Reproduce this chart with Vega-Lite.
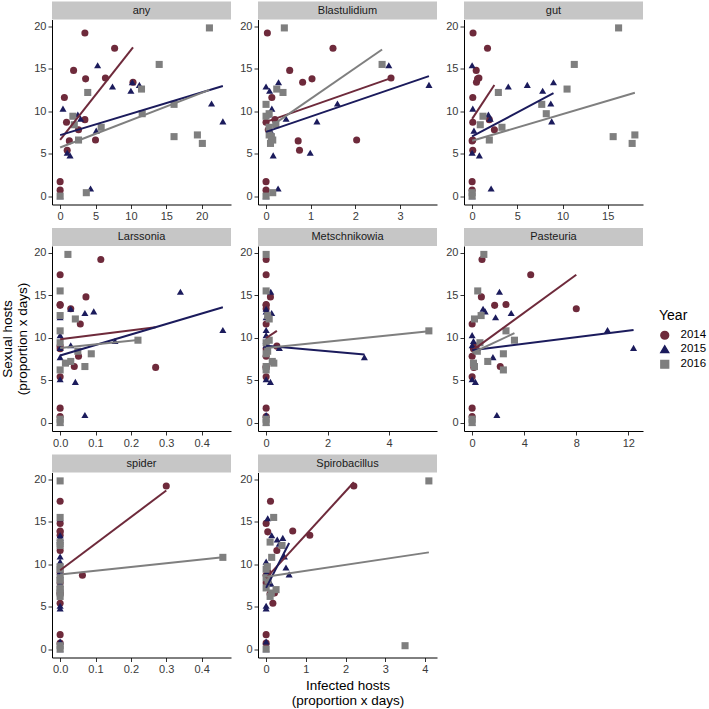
{
  "$schema": "https://vega.github.io/schema/vega-lite/v6.json",
  "padding": {"left": 0, "top": 1.5, "right": 0, "bottom": 0},
  "datasets": {
    "d": [
      {"Year":"2014","y":19.2,"any":3.5,"Blastulidium":0.03,"gut":0.1,"Larssonia":0.115,"Metschnikowia":0,"Pasteuria":0.76,"spider":0.3,"Spirobacillus":2.21},
      {"Year":"2014","y":17.4,"any":7.7,"Blastulidium":1.5,"gut":1.7,"Larssonia":0,"Metschnikowia":0,"Pasteuria":4.5,"spider":0,"Spirobacillus":0.11},
      {"Year":"2014","y":14.8,"any":1.9,"Blastulidium":0.53,"gut":0.45,"Larssonia":0.073,"Metschnikowia":0.14,"Pasteuria":0.71,"spider":0,"Spirobacillus":0},
      {"Year":"2014","y":13.9,"any":6.4,"Blastulidium":2.8,"gut":0.75,"Larssonia":0,"Metschnikowia":0,"Pasteuria":2.6,"spider":0,"Spirobacillus":0.67},
      {"Year":"2014","y":13.8,"any":3.6,"Blastulidium":1.03,"gut":0.6,"Larssonia":0,"Metschnikowia":0,"Pasteuria":1.73,"spider":0,"Spirobacillus":0.04},
      {"Year":"2014","y":13.4,"any":10.3,"Blastulidium":0.82,"gut":0.48,"Larssonia":0.03,"Metschnikowia":0,"Pasteuria":8.0,"spider":0,"Spirobacillus":1.1},
      {"Year":"2014","y":11.6,"any":0.6,"Blastulidium":0.13,"gut":0.07,"Larssonia":0.057,"Metschnikowia":0,"Pasteuria":0,"spider":0,"Spirobacillus":0.27},
      {"Year":"2014","y":9.0,"any":3.5,"Blastulidium":0.2,"gut":1.9,"Larssonia":0,"Metschnikowia":0.35,"Pasteuria":0.3,"spider":0,"Spirobacillus":0.05},
      {"Year":"2014","y":8.7,"any":0.9,"Blastulidium":0,"gut":0.07,"Larssonia":0,"Metschnikowia":0,"Pasteuria":0.1,"spider":0.063,"Spirobacillus":0},
      {"Year":"2014","y":7.8,"any":2.6,"Blastulidium":0.05,"gut":2.46,"Larssonia":0.052,"Metschnikowia":0,"Pasteuria":0,"spider":0,"Spirobacillus":0},
      {"Year":"2014","y":6.6,"any":5.0,"Blastulidium":2.03,"gut":0.07,"Larssonia":0.04,"Metschnikowia":0,"Pasteuria":2.16,"spider":0,"Spirobacillus":0.21},
      {"Year":"2014","y":6.5,"any":1.3,"Blastulidium":0.72,"gut":0,"Larssonia":0.27,"Metschnikowia":0,"Pasteuria":0.13,"spider":0,"Spirobacillus":0.1},
      {"Year":"2014","y":5.4,"any":1.0,"Blastulidium":0.75,"gut":0.07,"Larssonia":0,"Metschnikowia":0,"Pasteuria":0,"spider":0,"Spirobacillus":0.17},
      {"Year":"2014","y":1.7,"any":0,"Blastulidium":0,"gut":0,"Larssonia":0,"Metschnikowia":0,"Pasteuria":0,"spider":0,"Spirobacillus":0},
      {"Year":"2014","y":0.7,"any":0,"Blastulidium":0,"gut":0,"Larssonia":0,"Metschnikowia":0,"Pasteuria":0,"spider":0,"Spirobacillus":0},
      {"Year":"2015","y":15.4,"any":5.3,"Blastulidium":2.75,"gut":0,"Larssonia":0.34,"Metschnikowia":0.15,"Pasteuria":2.1,"spider":0,"Spirobacillus":0.04},
      {"Year":"2015","y":13.4,"any":10.2,"Blastulidium":0.28,"gut":9.0,"Larssonia":0.03,"Metschnikowia":0,"Pasteuria":0.84,"spider":0,"Spirobacillus":0.14},
      {"Year":"2015","y":13.1,"any":11.2,"Blastulidium":3.65,"gut":6.1,"Larssonia":0.095,"Metschnikowia":0,"Pasteuria":1.0,"spider":0,"Spirobacillus":0.42},
      {"Year":"2015","y":12.9,"any":7.4,"Blastulidium":0,"gut":4.0,"Larssonia":0.07,"Metschnikowia":0.18,"Pasteuria":3.0,"spider":0,"Spirobacillus":0.28},
      {"Year":"2015","y":12.4,"any":10.0,"Blastulidium":0.08,"gut":7.8,"Larssonia":0,"Metschnikowia":0,"Pasteuria":1.8,"spider":0,"Spirobacillus":0.33},
      {"Year":"2015","y":10.9,"any":21.4,"Blastulidium":1.6,"gut":8.7,"Larssonia":0.46,"Metschnikowia":0,"Pasteuria":10.4,"spider":0,"Spirobacillus":0.46},
      {"Year":"2015","y":10.3,"any":0.4,"Blastulidium":0.13,"gut":0.07,"Larssonia":0,"Metschnikowia":0,"Pasteuria":0,"spider":0,"Spirobacillus":0},
      {"Year":"2015","y":9.6,"any":2.5,"Blastulidium":0.05,"gut":1.8,"Larssonia":0.155,"Metschnikowia":0,"Pasteuria":0.1,"spider":0,"Spirobacillus":0.5},
      {"Year":"2015","y":9.1,"any":2.9,"Blastulidium":0.45,"gut":2.0,"Larssonia":0.03,"Metschnikowia":0,"Pasteuria":0,"spider":0,"Spirobacillus":0.02},
      {"Year":"2015","y":8.8,"any":23.0,"Blastulidium":1.14,"gut":8.8,"Larssonia":0,"Metschnikowia":0.43,"Pasteuria":12.4,"spider":0,"Spirobacillus":0.58},
      {"Year":"2015","y":7.7,"any":5.1,"Blastulidium":0.1,"gut":0.2,"Larssonia":0,"Metschnikowia":3.2,"Pasteuria":1.6,"spider":0,"Spirobacillus":0.12},
      {"Year":"2015","y":5.1,"any":1.0,"Blastulidium":0.99,"gut":0,"Larssonia":0,"Metschnikowia":0,"Pasteuria":0,"spider":0,"Spirobacillus":0},
      {"Year":"2015","y":4.8,"any":1.4,"Blastulidium":0.16,"gut":0.8,"Larssonia":0.043,"Metschnikowia":0.14,"Pasteuria":0.25,"spider":0,"Spirobacillus":0},
      {"Year":"2015","y":0.9,"any":4.3,"Blastulidium":0.27,"gut":2.1,"Larssonia":0.07,"Metschnikowia":0,"Pasteuria":1.9,"spider":0,"Spirobacillus":0},
      {"Year":"2015","y":0.0,"any":0,"Blastulidium":0,"gut":0,"Larssonia":0,"Metschnikowia":0,"Pasteuria":0,"spider":0,"Spirobacillus":0},
      {"Year":"2016","y":19.8,"any":21.1,"Blastulidium":0.41,"gut":16.2,"Larssonia":0.022,"Metschnikowia":0,"Pasteuria":0.9,"spider":0,"Spirobacillus":4.1},
      {"Year":"2016","y":15.5,"any":14.0,"Blastulidium":2.6,"gut":11.3,"Larssonia":0,"Metschnikowia":0,"Pasteuria":0.43,"spider":0,"Spirobacillus":0.19},
      {"Year":"2016","y":12.6,"any":11.5,"Blastulidium":0.24,"gut":10.5,"Larssonia":0,"Metschnikowia":0.05,"Pasteuria":0.69,"spider":0,"Spirobacillus":0.1},
      {"Year":"2016","y":12.2,"any":3.9,"Blastulidium":0.38,"gut":2.9,"Larssonia":0.043,"Metschnikowia":0.1,"Pasteuria":0.18,"spider":0,"Spirobacillus":0.4},
      {"Year":"2016","y":10.8,"any":16.1,"Blastulidium":0,"gut":7.7,"Larssonia":0,"Metschnikowia":5.3,"Pasteuria":2.6,"spider":0.46,"Spirobacillus":0.14},
      {"Year":"2016","y":9.7,"any":11.6,"Blastulidium":0.07,"gut":8.2,"Larssonia":0.22,"Metschnikowia":0.1,"Pasteuria":3.25,"spider":0,"Spirobacillus":0.03},
      {"Year":"2016","y":9.4,"any":1.8,"Blastulidium":0,"gut":1.2,"Larssonia":0,"Metschnikowia":0,"Pasteuria":0.6,"spider":0,"Spirobacillus":0},
      {"Year":"2016","y":8.4,"any":2.0,"Blastulidium":0.22,"gut":0.9,"Larssonia":0.05,"Metschnikowia":0.05,"Pasteuria":0.4,"spider":0,"Spirobacillus":0},
      {"Year":"2016","y":8.1,"any":5.8,"Blastulidium":0.07,"gut":3.3,"Larssonia":0.088,"Metschnikowia":0,"Pasteuria":2.4,"spider":0,"Spirobacillus":0.05},
      {"Year":"2016","y":7.2,"any":19.4,"Blastulidium":0.07,"gut":18.0,"Larssonia":0.03,"Metschnikowia":0.2,"Pasteuria":1.2,"spider":0,"Spirobacillus":0},
      {"Year":"2016","y":7.0,"any":16.1,"Blastulidium":0.12,"gut":15.6,"Larssonia":0.015,"Metschnikowia":0.25,"Pasteuria":0.1,"spider":0,"Spirobacillus":0.25},
      {"Year":"2016","y":6.6,"any":2.6,"Blastulidium":0.15,"gut":1.9,"Larssonia":0.07,"Metschnikowia":0,"Pasteuria":0.18,"spider":0,"Spirobacillus":0.13},
      {"Year":"2016","y":6.2,"any":20.1,"Blastulidium":0.1,"gut":17.7,"Larssonia":0,"Metschnikowia":0,"Pasteuria":2.4,"spider":0,"Spirobacillus":0.1},
      {"Year":"2016","y":0.4,"any":3.7,"Blastulidium":0.15,"gut":0,"Larssonia":0,"Metschnikowia":0,"Pasteuria":0,"spider":0,"Spirobacillus":3.5},
      {"Year":"2016","y":0.0,"any":0,"Blastulidium":0,"gut":0,"Larssonia":0,"Metschnikowia":0,"Pasteuria":0,"spider":0,"Spirobacillus":0}
    ]
  },
  "config": {
    "font": "Liberation Sans",
    "view": {"stroke": null},
    "axis": {"grid": false, "domainColor": "#000000", "domainWidth": 1, "tickColor": "#333333", "tickSize": 4, "tickWidth": 1, "labelColor": "#3a3a3a", "labelFontSize": 11, "labelFont": "Liberation Sans", "labelFlush": false, "labelOverlap": false, "labelPadding": 2, "titleFontSize": 13.5, "titleLineHeight": 15, "titleFontWeight": "normal", "titleColor": "#000000", "titleFont": "Liberation Sans"},
    "legend": {"titleFontSize": 14, "titleFontWeight": "normal", "titleColor": "#000000", "titlePadding": 7, "labelFontSize": 11.5, "labelColor": "#000000", "labelOffset": 10, "symbolSize": 60, "rowPadding": 0, "titleFont": "Liberation Sans", "labelFont": "Liberation Sans"},
    "text": {"font": "Liberation Sans", "fontSize": 11, "color": "#1a1a1a"}
  },
  "spacing": 6.5,
  "vconcat": [
    {"hconcat": [
      {"spacing": 0, "vconcat": [
        {"width": 179, "height": 18, "view": {"fill": "#c6c6c6", "stroke": null}, "data": {"values": [{"lab": "any"}]}, "mark": {"type": "text"}, "encoding": {"text": {"field": "lab"}}},
        {"width": 179, "height": 185, "data": {"name": "d"},
          "encoding": {
            "x": {"field": "any", "type": "quantitative", "scale": {"domain": [-1.15, 24.15], "nice": false, "zero": false}, "axis": {"values": [0,5,10,15,20], "format": "d", "title": null}},
            "y": {"field": "y", "type": "quantitative", "scale": {"domain": [-0.99, 20.79], "nice": false, "zero": false}, "axis": {"values": [0,5,10,15,20], "title": null}},
            "color": {"field": "Year", "type": "nominal", "title": "Year", "legend": {"orient": "none", "legendX": 607, "legendY": 307}, "scale": {"domain": ["2014","2015","2016"], "range": ["#6e2a3b","#1b1b5c","#7f7f7f"]}}
          },
          "layer": [
            {"mark": {"type": "point", "filled": true, "size": 50, "opacity": 1}, "encoding": {"shape": {"field": "Year", "type": "nominal", "title": "Year", "scale": {"domain": ["2014","2015","2016"], "range": ["circle","triangle-up","square"]}}}},
            {"transform": [{"regression": "y", "on": "any", "groupby": ["Year"]}], "mark": {"type": "line", "strokeWidth": 2}, "encoding": {}}
          ]
        }
      ]},
      {"spacing": 0, "vconcat": [
        {"width": 179, "height": 18, "view": {"fill": "#c6c6c6", "stroke": null}, "data": {"values": [{"lab": "Blastulidium"}]}, "mark": {"type": "text"}, "encoding": {"text": {"field": "lab"}}},
        {"width": 179, "height": 185, "data": {"name": "d"},
          "encoding": {
            "x": {"field": "Blastulidium", "type": "quantitative", "scale": {"domain": [-0.18, 3.83], "nice": false, "zero": false}, "axis": {"values": [0,1,2,3], "format": "d", "title": null}},
            "y": {"field": "y", "type": "quantitative", "scale": {"domain": [-0.99, 20.79], "nice": false, "zero": false}, "axis": {"values": [0,5,10,15,20], "title": null}},
            "color": {"field": "Year", "type": "nominal", "title": "Year", "legend": {"orient": "none", "legendX": 607, "legendY": 307}, "scale": {"domain": ["2014","2015","2016"], "range": ["#6e2a3b","#1b1b5c","#7f7f7f"]}}
          },
          "layer": [
            {"mark": {"type": "point", "filled": true, "size": 50, "opacity": 1}, "encoding": {"shape": {"field": "Year", "type": "nominal", "title": "Year", "scale": {"domain": ["2014","2015","2016"], "range": ["circle","triangle-up","square"]}}}},
            {"transform": [{"regression": "y", "on": "Blastulidium", "groupby": ["Year"]}], "mark": {"type": "line", "strokeWidth": 2}, "encoding": {}}
          ]
        }
      ]},
      {"spacing": 0, "vconcat": [
        {"width": 179, "height": 18, "view": {"fill": "#c6c6c6", "stroke": null}, "data": {"values": [{"lab": "gut"}]}, "mark": {"type": "text"}, "encoding": {"text": {"field": "lab"}}},
        {"width": 179, "height": 185, "data": {"name": "d"},
          "encoding": {
            "x": {"field": "gut", "type": "quantitative", "scale": {"domain": [-0.9, 18.9], "nice": false, "zero": false}, "axis": {"values": [0,5,10,15], "format": "d", "title": null}},
            "y": {"field": "y", "type": "quantitative", "scale": {"domain": [-0.99, 20.79], "nice": false, "zero": false}, "axis": {"values": [0,5,10,15,20], "title": null}},
            "color": {"field": "Year", "type": "nominal", "title": "Year", "legend": {"orient": "none", "legendX": 607, "legendY": 307}, "scale": {"domain": ["2014","2015","2016"], "range": ["#6e2a3b","#1b1b5c","#7f7f7f"]}}
          },
          "layer": [
            {"mark": {"type": "point", "filled": true, "size": 50, "opacity": 1}, "encoding": {"shape": {"field": "Year", "type": "nominal", "title": "Year", "scale": {"domain": ["2014","2015","2016"], "range": ["circle","triangle-up","square"]}}}},
            {"transform": [{"regression": "y", "on": "gut", "groupby": ["Year"]}], "mark": {"type": "line", "strokeWidth": 2}, "encoding": {}}
          ]
        }
      ]}
    ], "spacing": 8},
    {"hconcat": [
      {"spacing": 0, "vconcat": [
        {"width": 179, "height": 18, "view": {"fill": "#c6c6c6", "stroke": null}, "data": {"values": [{"lab": "Larssonia"}]}, "mark": {"type": "text"}, "encoding": {"text": {"field": "lab"}}},
        {"width": 179, "height": 185, "data": {"name": "d"},
          "encoding": {
            "x": {"field": "Larssonia", "type": "quantitative", "scale": {"domain": [-0.023, 0.483], "nice": false, "zero": false}, "axis": {"values": [0,0.1,0.2,0.3,0.4], "format": ".1f", "title": null}},
            "y": {"field": "y", "type": "quantitative", "scale": {"domain": [-0.99, 20.79], "nice": false, "zero": false}, "axis": {"values": [0,5,10,15,20], "title": ["Sexual hosts", "(proportion x days)"]}},
            "color": {"field": "Year", "type": "nominal", "title": "Year", "legend": {"orient": "none", "legendX": 607, "legendY": 307}, "scale": {"domain": ["2014","2015","2016"], "range": ["#6e2a3b","#1b1b5c","#7f7f7f"]}}
          },
          "layer": [
            {"mark": {"type": "point", "filled": true, "size": 50, "opacity": 1}, "encoding": {"shape": {"field": "Year", "type": "nominal", "title": "Year", "scale": {"domain": ["2014","2015","2016"], "range": ["circle","triangle-up","square"]}}}},
            {"transform": [{"regression": "y", "on": "Larssonia", "groupby": ["Year"]}], "mark": {"type": "line", "strokeWidth": 2}, "encoding": {}}
          ]
        }
      ]},
      {"spacing": 0, "vconcat": [
        {"width": 179, "height": 18, "view": {"fill": "#c6c6c6", "stroke": null}, "data": {"values": [{"lab": "Metschnikowia"}]}, "mark": {"type": "text"}, "encoding": {"text": {"field": "lab"}}},
        {"width": 179, "height": 185, "data": {"name": "d"},
          "encoding": {
            "x": {"field": "Metschnikowia", "type": "quantitative", "scale": {"domain": [-0.265, 5.565], "nice": false, "zero": false}, "axis": {"values": [0,2,4], "format": "d", "title": null}},
            "y": {"field": "y", "type": "quantitative", "scale": {"domain": [-0.99, 20.79], "nice": false, "zero": false}, "axis": {"values": [0,5,10,15,20], "title": null}},
            "color": {"field": "Year", "type": "nominal", "title": "Year", "legend": {"orient": "none", "legendX": 607, "legendY": 307}, "scale": {"domain": ["2014","2015","2016"], "range": ["#6e2a3b","#1b1b5c","#7f7f7f"]}}
          },
          "layer": [
            {"mark": {"type": "point", "filled": true, "size": 50, "opacity": 1}, "encoding": {"shape": {"field": "Year", "type": "nominal", "title": "Year", "scale": {"domain": ["2014","2015","2016"], "range": ["circle","triangle-up","square"]}}}},
            {"transform": [{"regression": "y", "on": "Metschnikowia", "groupby": ["Year"]}], "mark": {"type": "line", "strokeWidth": 2}, "encoding": {}}
          ]
        }
      ]},
      {"spacing": 0, "vconcat": [
        {"width": 179, "height": 18, "view": {"fill": "#c6c6c6", "stroke": null}, "data": {"values": [{"lab": "Pasteuria"}]}, "mark": {"type": "text"}, "encoding": {"text": {"field": "lab"}}},
        {"width": 179, "height": 185, "data": {"name": "d"},
          "encoding": {
            "x": {"field": "Pasteuria", "type": "quantitative", "scale": {"domain": [-0.625, 13.125], "nice": false, "zero": false}, "axis": {"values": [0,4,8,12], "format": "d", "title": null}},
            "y": {"field": "y", "type": "quantitative", "scale": {"domain": [-0.99, 20.79], "nice": false, "zero": false}, "axis": {"values": [0,5,10,15,20], "title": null}},
            "color": {"field": "Year", "type": "nominal", "title": "Year", "legend": {"orient": "none", "legendX": 607, "legendY": 307}, "scale": {"domain": ["2014","2015","2016"], "range": ["#6e2a3b","#1b1b5c","#7f7f7f"]}}
          },
          "layer": [
            {"mark": {"type": "point", "filled": true, "size": 50, "opacity": 1}, "encoding": {"shape": {"field": "Year", "type": "nominal", "title": "Year", "scale": {"domain": ["2014","2015","2016"], "range": ["circle","triangle-up","square"]}}}},
            {"transform": [{"regression": "y", "on": "Pasteuria", "groupby": ["Year"]}], "mark": {"type": "line", "strokeWidth": 2}, "encoding": {}}
          ]
        }
      ]}
    ], "spacing": 8},
    {"hconcat": [
      {"spacing": 0, "vconcat": [
        {"width": 179, "height": 18, "view": {"fill": "#c6c6c6", "stroke": null}, "data": {"values": [{"lab": "spider"}]}, "mark": {"type": "text"}, "encoding": {"text": {"field": "lab"}}},
        {"width": 179, "height": 185, "data": {"name": "d"},
          "encoding": {
            "x": {"field": "spider", "type": "quantitative", "scale": {"domain": [-0.023, 0.483], "nice": false, "zero": false}, "axis": {"values": [0,0.1,0.2,0.3,0.4], "format": ".1f", "title": null}},
            "y": {"field": "y", "type": "quantitative", "scale": {"domain": [-0.99, 20.79], "nice": false, "zero": false}, "axis": {"values": [0,5,10,15,20], "title": null}},
            "color": {"field": "Year", "type": "nominal", "title": "Year", "legend": {"orient": "none", "legendX": 607, "legendY": 307}, "scale": {"domain": ["2014","2015","2016"], "range": ["#6e2a3b","#1b1b5c","#7f7f7f"]}}
          },
          "layer": [
            {"mark": {"type": "point", "filled": true, "size": 50, "opacity": 1}, "encoding": {"shape": {"field": "Year", "type": "nominal", "title": "Year", "scale": {"domain": ["2014","2015","2016"], "range": ["circle","triangle-up","square"]}}}},
            {"transform": [{"filter": "datum.Year != '2015'"}, {"regression": "y", "on": "spider", "groupby": ["Year"]}], "mark": {"type": "line", "strokeWidth": 2}, "encoding": {}}
          ]
        }
      ]},
      {"spacing": 0, "vconcat": [
        {"width": 179, "height": 18, "view": {"fill": "#c6c6c6", "stroke": null}, "data": {"values": [{"lab": "Spirobacillus"}]}, "mark": {"type": "text"}, "encoding": {"text": {"field": "lab"}}},
        {"width": 179, "height": 185, "data": {"name": "d"},
          "encoding": {
            "x": {"field": "Spirobacillus", "type": "quantitative", "scale": {"domain": [-0.205, 4.305], "nice": false, "zero": false}, "axis": {"values": [0,1,2,3,4], "format": "d", "title": ["Infected hosts", "(proportion x days)"]}},
            "y": {"field": "y", "type": "quantitative", "scale": {"domain": [-0.99, 20.79], "nice": false, "zero": false}, "axis": {"values": [0,5,10,15,20], "title": null}},
            "color": {"field": "Year", "type": "nominal", "title": "Year", "legend": {"orient": "none", "legendX": 607, "legendY": 307}, "scale": {"domain": ["2014","2015","2016"], "range": ["#6e2a3b","#1b1b5c","#7f7f7f"]}}
          },
          "layer": [
            {"mark": {"type": "point", "filled": true, "size": 50, "opacity": 1}, "encoding": {"shape": {"field": "Year", "type": "nominal", "title": "Year", "scale": {"domain": ["2014","2015","2016"], "range": ["circle","triangle-up","square"]}}}},
            {"transform": [{"regression": "y", "on": "Spirobacillus", "groupby": ["Year"]}], "mark": {"type": "line", "strokeWidth": 2}, "encoding": {}}
          ]
        }
      ]}
    ], "spacing": 8}
  ]
}
